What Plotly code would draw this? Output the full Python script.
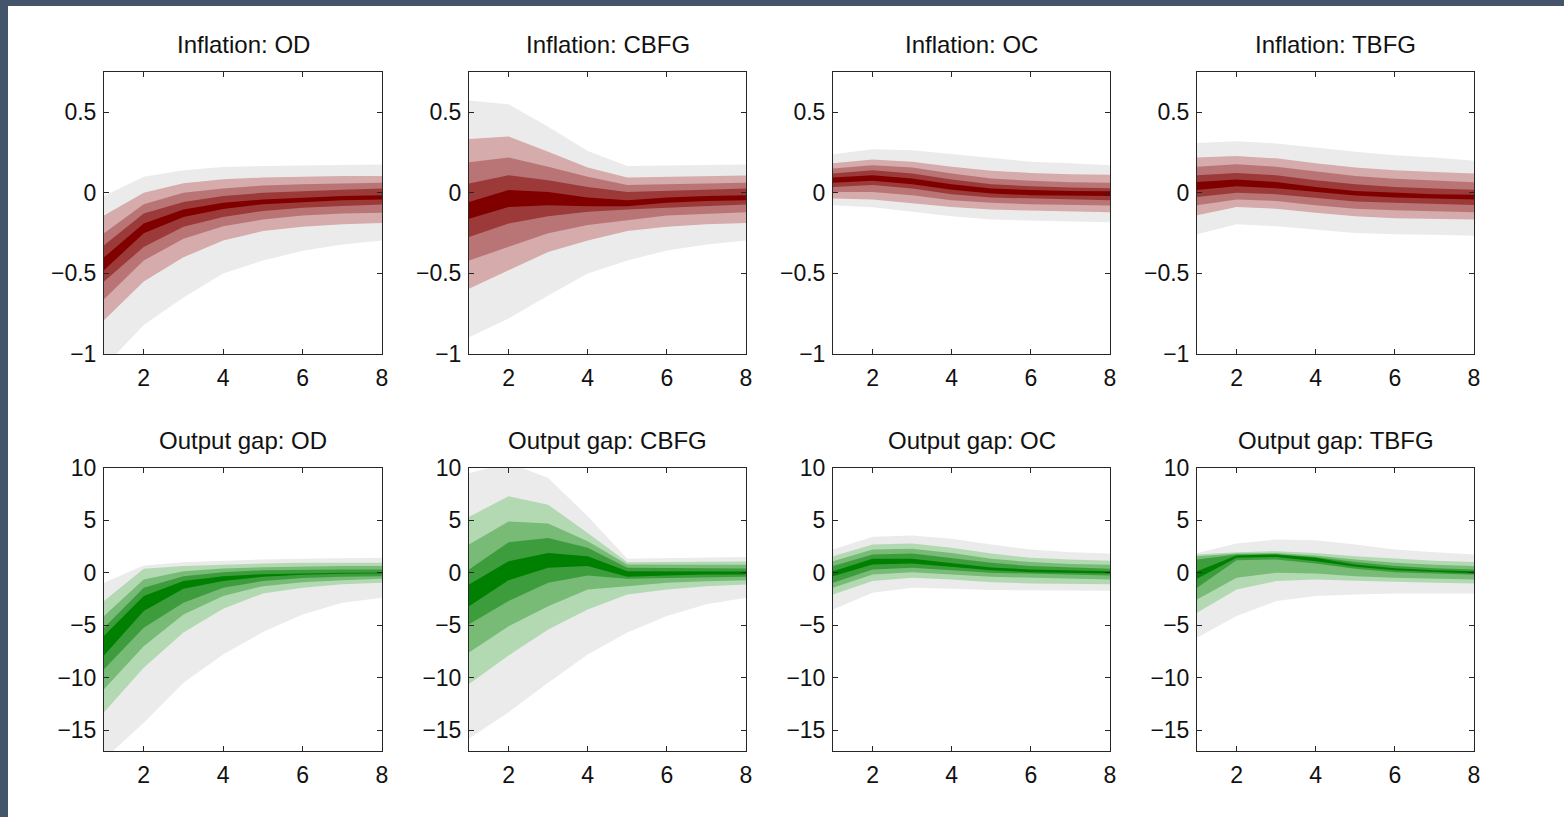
import plotly.graph_objects as go

# ---------------- data ----------------
HORIZON = [1, 2, 3, 4, 5, 6, 7, 8]

# each panel: 10 quantile paths, from lowest to highest
# (outer grey low, light low, medium low, dark low, centre low,
#  centre high, dark high, medium high, light high, outer grey high)
INF_OD = [
    [-1.08, -0.82, -0.65, -0.50, -0.42, -0.36, -0.32, -0.295],
    [-0.79, -0.55, -0.40, -0.295, -0.237, -0.21, -0.195, -0.187],
    [-0.66, -0.42, -0.285, -0.207, -0.166, -0.14, -0.128, -0.124],
    [-0.55, -0.336, -0.21, -0.15, -0.112, -0.093, -0.081, -0.073],
    [-0.48, -0.25, -0.15, -0.10, -0.07, -0.056, -0.046, -0.041],
    [-0.40, -0.19, -0.104, -0.062, -0.041, -0.029, -0.02, -0.015],
    [-0.325, -0.128, -0.056, -0.02, 0.0, 0.012, 0.02, 0.027],
    [-0.25, -0.07, 0.0, 0.027, 0.045, 0.054, 0.058, 0.062],
    [-0.14, 0.0, 0.06, 0.085, 0.095, 0.10, 0.104, 0.104],
    [-0.02, 0.10, 0.14, 0.16, 0.166, 0.17, 0.176, 0.176],
]
INF_CBFG = [
    [-0.896, -0.78, -0.637, -0.50, -0.42, -0.357, -0.32, -0.295],
    [-0.595, -0.48, -0.367, -0.295, -0.237, -0.21, -0.195, -0.187],
    [-0.42, -0.336, -0.25, -0.20, -0.17, -0.14, -0.128, -0.12],
    [-0.274, -0.19, -0.145, -0.118, -0.104, -0.093, -0.081, -0.073],
    [-0.16, -0.087, -0.077, -0.083, -0.083, -0.062, -0.05, -0.046],
    [-0.056, 0.017, 0.006, -0.029, -0.046, -0.029, -0.02, -0.015],
    [0.058, 0.11, 0.079, 0.037, 0.006, 0.012, 0.02, 0.027],
    [0.19, 0.22, 0.162, 0.10, 0.048, 0.054, 0.058, 0.062],
    [0.334, 0.35, 0.255, 0.158, 0.095, 0.10, 0.104, 0.108],
    [0.573, 0.55, 0.41, 0.26, 0.166, 0.17, 0.172, 0.176],
]
INF_OC = [
    [-0.077, -0.09, -0.118, -0.145, -0.166, -0.174, -0.178, -0.183],
    [-0.035, -0.041, -0.062, -0.087, -0.104, -0.112, -0.116, -0.12],
    [0.006, 0.006, -0.015, -0.046, -0.062, -0.07, -0.075, -0.079],
    [0.037, 0.048, 0.027, -0.008, -0.029, -0.037, -0.041, -0.046],
    [0.062, 0.075, 0.054, 0.02, -0.004, -0.015, -0.019, -0.02],
    [0.095, 0.11, 0.089, 0.054, 0.027, 0.017, 0.012, 0.01],
    [0.12, 0.141, 0.12, 0.083, 0.054, 0.041, 0.033, 0.029],
    [0.151, 0.172, 0.158, 0.12, 0.089, 0.075, 0.066, 0.062],
    [0.183, 0.207, 0.193, 0.162, 0.137, 0.124, 0.116, 0.112],
    [0.24, 0.27, 0.265, 0.24, 0.214, 0.193, 0.183, 0.172],
]
INF_TBFG = [
    [-0.257, -0.195, -0.207, -0.228, -0.249, -0.257, -0.26, -0.266],
    [-0.139, -0.087, -0.098, -0.124, -0.145, -0.158, -0.162, -0.166],
    [-0.077, -0.041, -0.05, -0.077, -0.098, -0.108, -0.116, -0.12],
    [-0.025, 0.0, -0.008, -0.033, -0.054, -0.062, -0.07, -0.075],
    [0.017, 0.041, 0.029, 0.004, -0.017, -0.029, -0.035, -0.041],
    [0.068, 0.083, 0.068, 0.037, 0.012, 0.0, -0.008, -0.012],
    [0.11, 0.124, 0.11, 0.079, 0.054, 0.037, 0.027, 0.02],
    [0.162, 0.178, 0.162, 0.131, 0.104, 0.087, 0.075, 0.066],
    [0.22, 0.228, 0.214, 0.183, 0.158, 0.141, 0.129, 0.12],
    [0.31, 0.32, 0.307, 0.28, 0.255, 0.234, 0.22, 0.20],
]
GAP_OD = [
    [-17.8, -14.3, -10.5, -7.8, -5.65, -3.97, -2.86, -2.38],
    [-13.3, -9.05, -5.7, -3.43, -1.97, -1.43, -1.1, -0.95],
    [-11.1, -7.0, -3.97, -2.22, -1.27, -0.89, -0.7, -0.57],
    [-9.2, -5.24, -2.86, -1.43, -0.79, -0.5, -0.38, -0.32],
    [-7.9, -3.65, -1.52, -0.79, -0.38, -0.19, -0.1, -0.06],
    [-6.0, -2.22, -0.79, -0.32, -0.13, -0.03, 0.0, 0.0],
    [-5.24, -1.43, -0.32, 0.06, 0.25, 0.32, 0.32, 0.32],
    [-4.13, -0.64, 0.16, 0.41, 0.54, 0.6, 0.64, 0.64],
    [-2.7, 0.38, 0.64, 0.8, 0.89, 0.95, 0.95, 0.95],
    [-0.95, 0.7, 1.0, 1.15, 1.27, 1.33, 1.4, 1.43],
]
GAP_CBFG = [
    [-15.8, -13.3, -10.5, -7.8, -5.7, -4.13, -3.0, -2.38],
    [-10.6, -7.9, -5.4, -3.5, -2.06, -1.59, -1.27, -1.11],
    [-7.6, -5.1, -3.2, -1.59, -1.27, -0.95, -0.8, -0.7],
    [-4.9, -2.7, -0.95, -0.25, -0.57, -0.5, -0.41, -0.38],
    [-3.2, -0.7, 0.48, 0.64, -0.38, -0.25, -0.16, -0.16],
    [-1.11, 1.11, 1.9, 1.59, 0.16, 0.13, 0.13, 0.13],
    [0.32, 2.92, 3.33, 2.38, 0.48, 0.44, 0.41, 0.41],
    [2.7, 4.9, 4.7, 3.0, 0.8, 0.76, 0.76, 0.76],
    [5.34, 7.3, 6.5, 3.8, 1.0, 1.0, 1.05, 1.08],
    [9.5, 10.5, 9.05, 5.4, 1.33, 1.4, 1.46, 1.52],
]
GAP_OC = [
    [-3.5, -1.9, -1.43, -1.52, -1.65, -1.72, -1.72, -1.72],
    [-2.06, -0.79, -0.48, -0.64, -0.89, -1.02, -1.08, -1.08],
    [-1.43, -0.16, 0.06, -0.16, -0.38, -0.5, -0.57, -0.64],
    [-0.95, 0.32, 0.48, 0.25, 0.0, -0.13, -0.19, -0.25],
    [-0.32, 0.8, 0.89, 0.57, 0.25, 0.06, 0.0, -0.06],
    [0.16, 1.33, 1.33, 0.95, 0.51, 0.32, 0.22, 0.16],
    [0.64, 1.75, 1.84, 1.43, 0.95, 0.64, 0.48, 0.38],
    [1.11, 2.22, 2.29, 1.9, 1.33, 1.02, 0.83, 0.76],
    [1.59, 2.7, 2.8, 2.38, 1.84, 1.43, 1.27, 1.14],
    [2.22, 3.43, 3.56, 3.24, 2.7, 2.22, 1.97, 1.84],
]
GAP_TBFG = [
    [-6.2, -4.13, -2.7, -2.22, -2.06, -1.97, -1.97, -1.97],
    [-3.8, -1.59, -0.79, -0.64, -0.76, -0.89, -0.95, -1.02],
    [-2.54, -0.48, 0.0, -0.06, -0.32, -0.48, -0.57, -0.64],
    [-1.43, 1.2, 1.27, 0.89, 0.38, 0.06, -0.06, -0.19],
    [-0.57, 1.43, 1.52, 1.11, 0.57, 0.25, 0.06, -0.06],
    [0.16, 1.65, 1.75, 1.43, 0.8, 0.44, 0.25, 0.16],
    [1.27, 1.75, 1.78, 1.52, 1.02, 0.64, 0.44, 0.32],
    [1.59, 1.84, 1.9, 1.65, 1.27, 0.95, 0.76, 0.64],
    [1.75, 1.97, 2.06, 1.9, 1.59, 1.33, 1.14, 1.02],
    [1.9, 2.8, 3.18, 3.11, 2.7, 2.22, 1.97, 1.75],
]

TITLES_TOP = ["Inflation: OD", "Inflation: CBFG", "Inflation: OC", "Inflation: TBFG"]
TITLES_BOTTOM = ["Output gap: OD", "Output gap: CBFG", "Output gap: OC", "Output gap: TBFG"]

X_TICKS = [2, 4, 6, 8]
INF_TICKS = [-1, -0.5, 0, 0.5]
INF_TICK_TEXT = ["\u22121", "\u22120.5", "0", "0.5"]
GAP_TICKS = [-15, -10, -5, 0, 5, 10]
GAP_TICK_TEXT = ["\u221215", "\u221210", "\u22125", "0", "5", "10"]

# ---------------- style ----------------
W, H = 1564, 817
GREY = "#ebebeb"
REDS = ["#d5abab", "#b97575", "#9c3a3a", "#800000"]
GREENS = ["#b3d9b3", "#77bb77", "#3d9d3d", "#008000"]
COL_PX = [(104, 382), (469, 746), (833, 1110), (1197, 1474)]
ROW_PX = [(72, 354), (468, 751)]
AX_COLOR = "#262626"
FONT = "Liberation Sans, Arial, Helvetica, sans-serif"

panels = [
    (0, 0, INF_OD, REDS), (0, 1, INF_CBFG, REDS), (0, 2, INF_OC, REDS), (0, 3, INF_TBFG, REDS),
    (1, 0, GAP_OD, GREENS), (1, 1, GAP_CBFG, GREENS), (1, 2, GAP_OC, GREENS), (1, 3, GAP_TBFG, GREENS),
]

fig = go.Figure()
layout = {}
annotations = []

for i, (r, c, paths, shades) in enumerate(panels):
    n = i + 1
    xa = "x" if n == 1 else f"x{n}"
    ya = "y" if n == 1 else f"y{n}"
    colors = [GREY] + shades
    for k in range(5):
        lo = paths[k]
        hi = paths[9 - k]
        fig.add_trace(go.Scatter(
            x=HORIZON + HORIZON[::-1],
            y=hi + lo[::-1],
            fill="toself", fillcolor=colors[k],
            line=dict(width=0, color=colors[k]),
            mode="lines", hoverinfo="skip", showlegend=False,
            xaxis=xa, yaxis=ya,
        ))
    x0, x1 = COL_PX[c]
    y0, y1 = ROW_PX[r]
    common = dict(
        showline=True, linecolor=AX_COLOR, linewidth=1, mirror="ticks",
        ticks="inside", ticklen=5, tickcolor=AX_COLOR, tickwidth=1,
        showgrid=False, zeroline=False, automargin=False,
        tickfont=dict(family=FONT, size=23, color="#111111"),
    )
    layout["xaxis" if n == 1 else f"xaxis{n}"] = dict(
        common, domain=[x0 / W, x1 / W], range=[1, 8],
        tickmode="array", tickvals=X_TICKS, ticktext=[str(v) for v in X_TICKS],
        anchor=ya, ticklabelstandoff=3,
    )
    if r == 0:
        yr, tv, tt = [-1, 0.75], INF_TICKS, INF_TICK_TEXT
    else:
        yr, tv, tt = [-17, 10], GAP_TICKS, GAP_TICK_TEXT
    layout["yaxis" if n == 1 else f"yaxis{n}"] = dict(
        common, domain=[1 - y1 / H, 1 - y0 / H], range=yr,
        tickmode="array", tickvals=tv, ticktext=tt, anchor=xa,
        ticklabelstandoff=2,
    )
    title = TITLES_TOP[c] if r == 0 else TITLES_BOTTOM[c]
    annotations.append(dict(
        text=title, xref="paper", yref="paper",
        x=(x0 + x1) / 2 / W, y=1 - (y0 - 28) / H,
        xanchor="center", yanchor="middle", showarrow=False,
        font=dict(family=FONT, size=24, color="#111111"),
    ))

shapes = [
    dict(type="rect", xref="paper", yref="paper", x0=0, x1=1, y0=1 - 6 / H, y1=1,
         fillcolor="#44546a", line=dict(width=0), layer="above"),
    dict(type="rect", xref="paper", yref="paper", x0=0, x1=8 / W, y0=0, y1=1,
         fillcolor="#44546a", line=dict(width=0), layer="above"),
]

fig.update_layout(
    width=W, height=H, autosize=False,
    margin=dict(l=0, r=0, t=0, b=0, pad=0, autoexpand=False),
    paper_bgcolor="white", plot_bgcolor="white",
    showlegend=False,
    annotations=annotations, shapes=shapes,
    **layout,
)

fig.write_html("out.html")
